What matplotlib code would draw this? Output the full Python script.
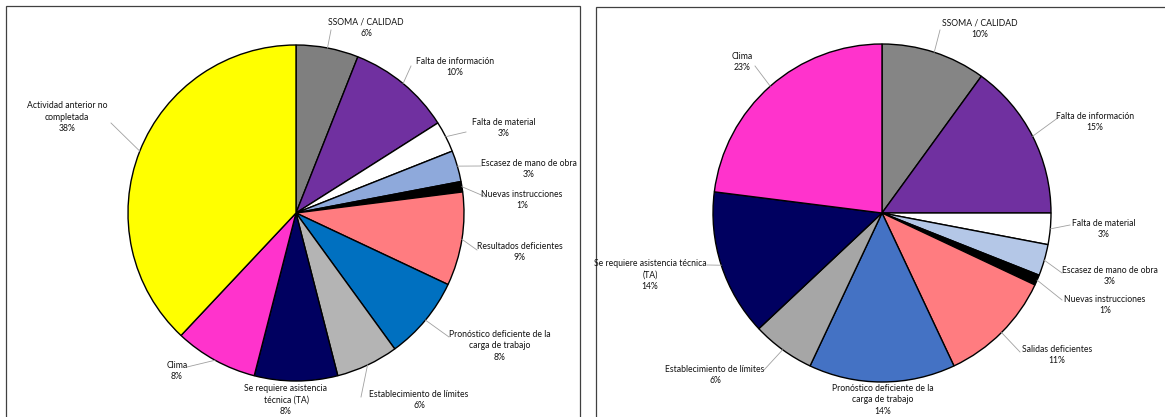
import numpy as np
import matplotlib.pyplot as plt

# data
left_labels = ["SSOMA / CALIDAD", "Falta de información", "Falta de material",
               "Escasez de mano de obra", "Nuevas instrucciones", "Resultados deficientes",
               "Pronóstico deficiente de la\ncarga de trabajo", "Establecimiento de límites",
               "Se requiere asistencia\ntécnica (TA)", "Clima",
               "Actividad anterior no\ncompletada"]
left_values = [6, 10, 3, 3, 1, 9, 8, 6, 8, 8, 38]

right_labels = ["SSOMA / CALIDAD", "Falta de información", "Falta de material",
                "Escasez de mano de obra", "Nuevas instrucciones", "Salidas deficientes",
                "Pronóstico deficiente de la\ncarga de trabajo", "Establecimiento de límites",
                "Se requiere asistencia técnica\n(TA)", "Clima"]
right_values = [10, 15, 3, 3, 1, 11, 14, 6, 14, 23]

# styles
left_colors = ["#7F7F7F", "#7030A0", "#FFFFFF", "#8EA9DB", "#000000", "#FF7C80",
               "#0070C0", "#B4B4B4", "#000060", "#FF33CC", "#FFFF00"]
right_colors = ["#858585", "#7030A0", "#FFFFFF", "#B4C7E7", "#000000", "#FF7C80",
                "#4472C4", "#A6A6A6", "#000060", "#FF33CC"]

W, H = 1165, 417

# layout in pixels (x, y from top)
left_center, left_r = (296, 213), 168
right_center, right_r = (882, 213), 169
left_text_pos = [(366, 28), (455, 67), (504, 128), (529, 169), (522, 200), (520, 252),
                 (500, 346), (419, 400), (286, 400), (177, 371), (67, 117)]
left_leader_end = [(331, 30), (411, 66), (466, 132), (481, 166), (486, 197), (477, 250),
                   (449, 337), (361, 397), None, (187, 367), (111, 123)]
right_text_pos = [(980, 29), (1095, 122), (1104, 229), (1110, 276), (1105, 305), (1057, 355),
                  (883, 400), (715, 375), (650, 275), (742, 62)]
right_leader_end = [(940, 30), (1059, 117), (1070, 225), (1062, 273), (1062, 300), (1020, 352),
                    None, (764, 370), (707, 265), (755, 66)]

plt.rcParams['font.family'] = ['Liberation Sans Narrow', 'Lato', 'DejaVu Sans']

fig = plt.figure(figsize=(W / 100, H / 100), dpi=100)
ax = fig.add_axes([0, 0, 1, 1])
ax.set_xlim(0, W)
ax.set_ylim(0, H)
ax.axis('off')


def fy(y):
    return H - y


# panel frames
for x0, x1, y0 in [(6, 580, 6), (596, 1170, 7)]:
    ax.add_patch(plt.Rectangle((x0, fy(430)), x1 - x0, 430 - y0, facecolor='white',
                               edgecolor='#404040', linewidth=0.9, zorder=0))


def draw_pie(values, labels, colors, center, r, text_pos, leader_end):
    total = float(sum(values))
    wedges, _ = ax.pie(values, colors=colors, startangle=90, counterclock=False,
                       center=(center[0], fy(center[1])), radius=r, normalize=True,
                       wedgeprops=dict(edgecolor='black', linewidth=1.0))
    for w, lab, v, tp, le in zip(wedges, labels, values, text_pos, leader_end):
        pct = f"{round(100 * v / total)}%"
        ax.text(tp[0], fy(tp[1]), lab + "\n" + pct, ha='center', va='center',
                fontsize=6.2, linespacing=1.32, color='#111111', zorder=5)
        if le is not None:
            mid = np.deg2rad((w.theta1 + w.theta2) / 2)
            sx = center[0] + r * np.cos(mid)
            sy = fy(center[1]) + r * np.sin(mid)
            ax.plot([sx, le[0]], [sy, fy(le[1])], color='#A0A0A0', linewidth=0.6, zorder=4)


draw_pie(left_values, left_labels, left_colors, left_center, left_r,
         left_text_pos, left_leader_end)
draw_pie(right_values, right_labels, right_colors, right_center, right_r,
         right_text_pos, right_leader_end)

ax.set_xlim(0, W)
ax.set_ylim(0, H)
ax.set_aspect('auto')
fig.savefig('out.png', dpi=100, facecolor='white')
